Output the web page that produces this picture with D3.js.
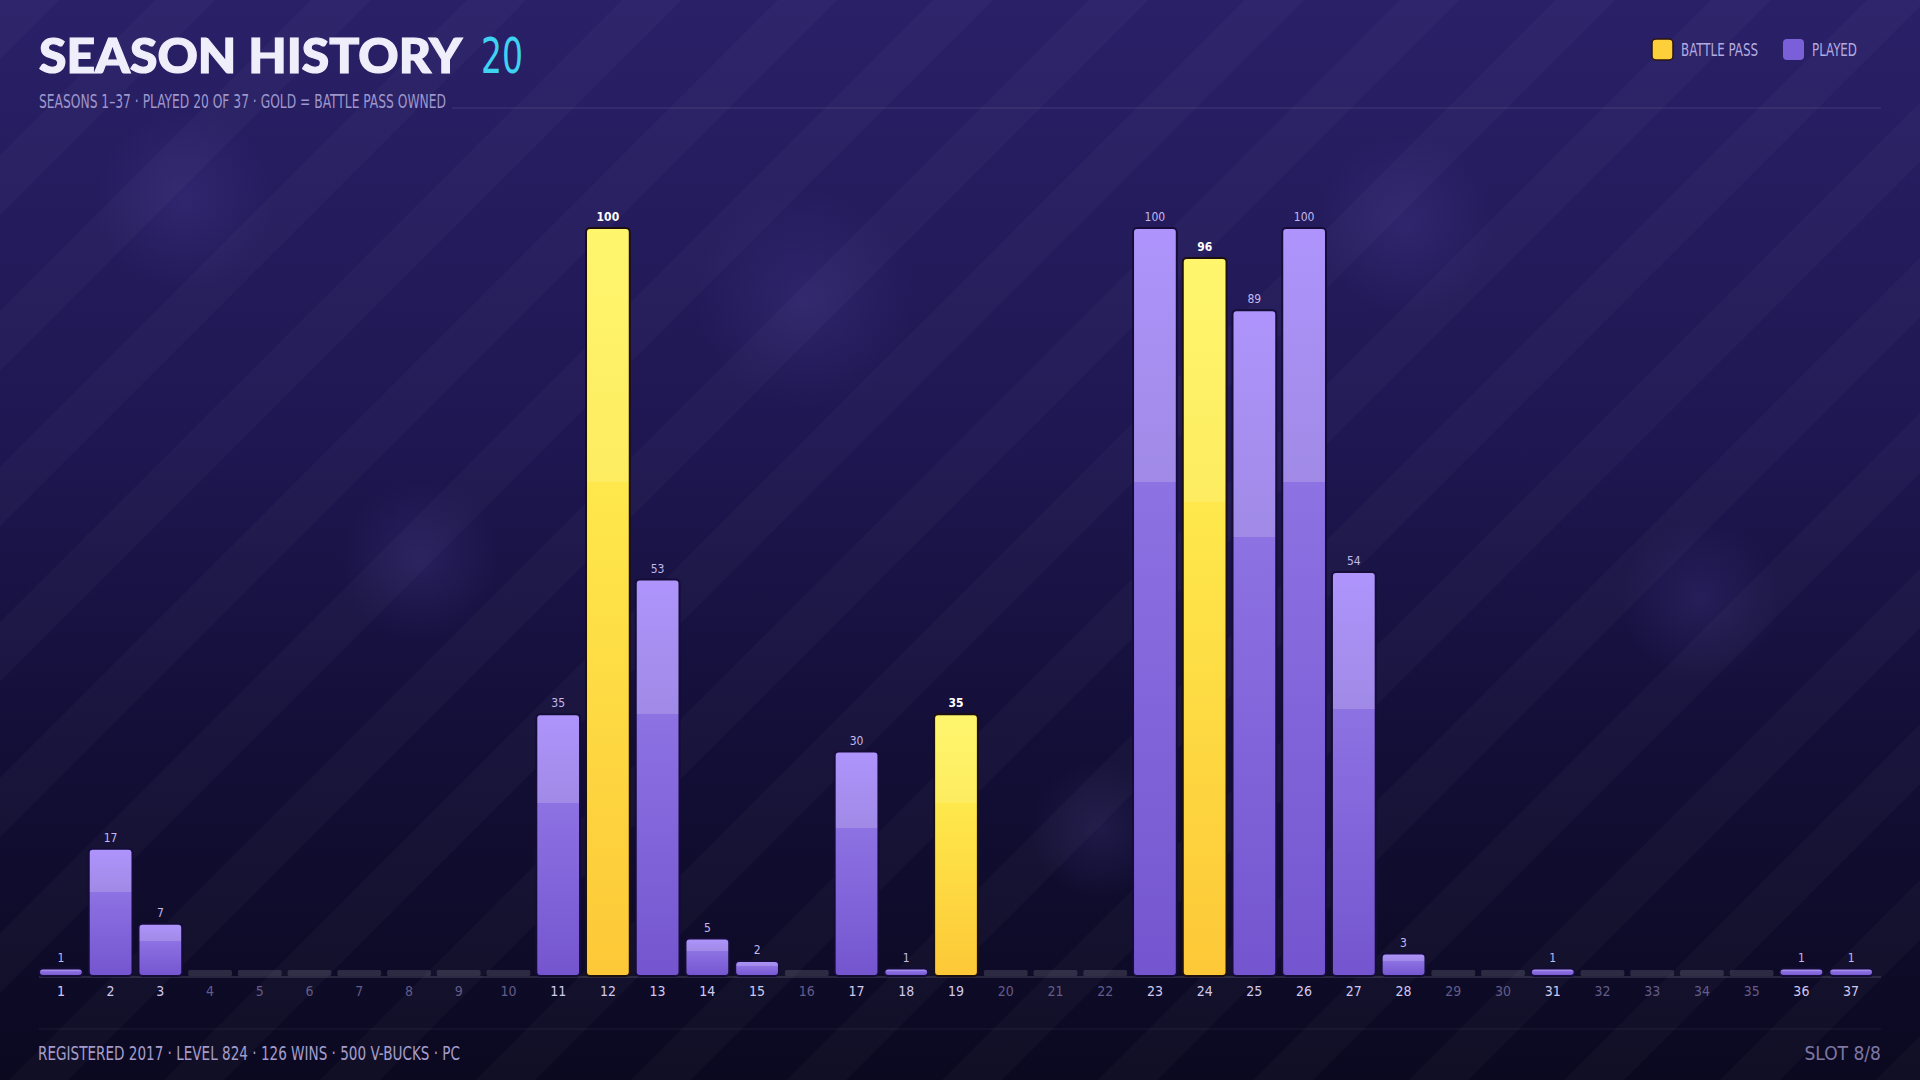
<!DOCTYPE html>
<html>
<head>
<meta charset="utf-8">
<script src="https://cdn.jsdelivr.net/npm/d3@7"></script>
<style>
  html, body { margin: 0; padding: 0; background: #0b0920; }
  svg { display: block; }
</style>
</head>
<body>
<svg id="chart" width="1920" height="1080"></svg>
<script>
// season numbers, levels reached, and which seasons had the battle pass
const seasons = d3.range(1, 38);
const levels = [1, 17, 7, 0, 0, 0, 0, 0, 0, 0, 35, 100, 53, 5, 2, 0, 30, 1, 35, 0, 0, 0, 100, 96, 89, 100, 54, 3, 0, 0, 1, 0, 0, 0, 0, 1, 1];
const battlePassSeasons = [12, 19, 24];
const legendLabels = ["BATTLE PASS", "PLAYED"];

const titleText = "SEASON HISTORY";
const playedCount = levels.filter((d) => d > 0).length;
const subtitleText = `SEASONS 1\u201337  \u00b7  PLAYED ${playedCount} OF 37  \u00b7  GOLD = BATTLE PASS OWNED`;
const footerText = "REGISTERED 2017  \u00b7  LEVEL 824  \u00b7  126 WINS  \u00b7  500 V-BUCKS  \u00b7  PC";
const slotText = "SLOT 8/8";

const condensed = "'Liberation Sans Narrow', 'DejaVu Sans Condensed', 'Roboto Condensed', sans-serif";

const data = seasons.map((s, i) => ({
    season: s,
    level: levels[i],
    bp: battlePassSeasons.includes(s),
}));

const svg = d3.select("#chart");
const W = 1920, H = 1080;
const defs = svg.append("defs");

// background
const bg = defs.append("linearGradient").attr("id", "bg").attr("x1", 0).attr("y1", 0).attr("x2", 0).attr("y2", 1);
bg.append("stop").attr("offset", "0%").attr("stop-color", "#2a2068");
bg.append("stop").attr("offset", "40%").attr("stop-color", "#1f1752");
bg.append("stop").attr("offset", "70%").attr("stop-color", "#130e36");
bg.append("stop").attr("offset", "100%").attr("stop-color", "#0b0920");

const stripes = defs.append("pattern")
    .attr("id", "stripes")
    .attr("patternUnits", "userSpaceOnUse")
    .attr("width", 110)
    .attr("height", 110)
    .attr("patternTransform", "rotate(45)");
stripes.append("rect").attr("width", 42).attr("height", 110).attr("fill", "#ffffff").attr("opacity", 0.025);

const glow = defs.append("radialGradient").attr("id", "glow");
glow.append("stop").attr("offset", "0%").attr("stop-color", "#6b5cc4").attr("stop-opacity", 0.16);
glow.append("stop").attr("offset", "100%").attr("stop-color", "#6b5cc4").attr("stop-opacity", 0);

// bar gradients with the hard step a third of the way down
const playedGrad = defs.append("linearGradient").attr("id", "played").attr("x1", 0).attr("y1", 0).attr("x2", 0).attr("y2", 1);
[["0", "#ae94fc"], ["0.34", "#a08ae6"], ["0.34", "#8d72e3"], ["1", "#7455cf"]].forEach(([o, c]) =>
    playedGrad.append("stop").attr("offset", o).attr("stop-color", c));

const goldGrad = defs.append("linearGradient").attr("id", "gold").attr("x1", 0).attr("y1", 0).attr("x2", 0).attr("y2", 1);
[["0", "#fff66e"], ["0.34", "#fdec60"], ["0.34", "#fee84c"], ["1", "#fdc837"]].forEach(([o, c]) =>
    goldGrad.append("stop").attr("offset", o).attr("stop-color", c));

svg.append("rect").attr("width", W).attr("height", H).attr("fill", "url(#bg)");

// soft bokeh blobs
[[185, 200, 90], [805, 300, 110], [1405, 225, 90], [1700, 600, 80], [1100, 830, 70], [420, 560, 80]].forEach(([cx, cy, r]) =>
    svg.append("circle").attr("cx", cx).attr("cy", cy).attr("r", r).attr("fill", "url(#glow)"));

svg.append("rect").attr("width", W).attr("height", H).attr("fill", "url(#stripes)");

// header
svg.append("text")
    .attr("x", 39)
    .attr("y", 73)
    .attr("font-family", "Lato, Inter, sans-serif")
    .attr("font-weight", 900)
    .attr("font-size", 48)
    .attr("fill", "#f1eefc")
    .attr("stroke", "#f1eefc")
    .attr("stroke-width", 1.2)
    .attr("textLength", 423)
    .attr("lengthAdjust", "spacingAndGlyphs")
    .text(titleText);

svg.append("text")
    .attr("x", 481)
    .attr("y", 73)
    .attr("font-family", condensed)
    .attr("font-stretch", "condensed")
    .attr("font-size", 50)
    .attr("fill", "#3fd3f2")
    .attr("textLength", 42)
    .attr("lengthAdjust", "spacingAndGlyphs")
    .text(playedCount);

svg.append("text")
    .attr("x", 39)
    .attr("y", 108)
    .attr("font-family", condensed)
    .attr("font-stretch", "condensed")
    .attr("font-size", 19)
    .attr("fill", "#9e97cc")
    .attr("textLength", 407)
    .attr("lengthAdjust", "spacingAndGlyphs")
    .text(subtitleText);

svg.append("line")
    .attr("x1", 452).attr("x2", 1881)
    .attr("y1", 108).attr("y2", 108)
    .attr("stroke", "#ffffff").attr("stroke-opacity", 0.12);

// legend
const legend = svg.append("g");
const legendX = [1652, 1783];
legendLabels.forEach((lab, i) => {
    const g = legend.append("g").attr("transform", `translate(${legendX[i]},39)`);
    g.append("rect")
        .attr("width", 21).attr("height", 21).attr("rx", 4)
        .attr("fill", i === 0 ? "#fdcf3b" : "#7a5fd8")
        .attr("stroke", i === 0 ? "#2a140e" : "none")
        .attr("stroke-width", 1.5);
    g.append("text")
        .attr("x", 29).attr("y", 17)
        .attr("font-family", condensed)
        .attr("font-stretch", "condensed")
        .attr("font-size", 17)
        .attr("fill", "#b3abe0")
        .attr("textLength", i === 0 ? 77 : 45)
        .attr("lengthAdjust", "spacingAndGlyphs")
        .text(lab);
});

// scales
const x = d3.scaleBand()
    .domain(seasons)
    .range([39, 1873])
    .paddingInner(0.12)
    .paddingOuter(0);

const y = d3.scaleLinear().domain([0, 100]).range([976, 228]);

// baseline
svg.append("line")
    .attr("x1", 39).attr("x2", 1881)
    .attr("y1", y(0) + 1).attr("y2", y(0) + 1)
    .attr("stroke", "#ffffff").attr("stroke-opacity", 0.22);

// placeholder stubs for unplayed seasons
svg.append("g")
    .selectAll("rect")
    .data(data.filter((d) => d.level === 0))
    .join("rect")
    .attr("x", (d) => x(d.season))
    .attr("y", y(0) - 6)
    .attr("width", x.bandwidth())
    .attr("height", 6)
    .attr("rx", 1.5)
    .attr("fill", "#ffffff")
    .attr("opacity", 0.13);

// bars
svg.append("g")
    .selectAll("rect")
    .data(data.filter((d) => d.level > 0))
    .join("rect")
    .attr("x", (d) => x(d.season))
    .attr("y", (d) => y(d.level))
    .attr("width", x.bandwidth())
    .attr("height", (d) => Math.max(y(0) - y(d.level), 6))
    .attr("rx", 4)
    .attr("fill", (d) => (d.bp ? "url(#gold)" : "url(#played)"))
    .attr("stroke", (d) => (d.bp ? "#1d1010" : "#150d38"))
    .attr("stroke-width", 2);

// value labels
svg.append("g")
    .selectAll("text")
    .data(data.filter((d) => d.level > 0))
    .join("text")
    .attr("x", (d) => x(d.season) + x.bandwidth() / 2)
    .attr("y", (d) => Math.min(y(d.level), y(0) - 6) - 7)
    .attr("text-anchor", "middle")
    .attr("font-family", condensed)
    .attr("font-stretch", "condensed")
    .attr("font-size", 12)
    .attr("font-weight", (d) => (d.bp ? 700 : 400))
    .attr("fill", (d) => (d.bp ? "#ffffff" : "#c2b9ec"))
    .text((d) => d.level);

// season tick labels
const xAxis = svg.append("g")
    .attr("transform", `translate(0,${y(0) + 10})`)
    .call(d3.axisBottom(x).tickSize(0).tickPadding(0));
xAxis.select(".domain").remove();
xAxis.selectAll("text")
    .attr("dy", "0.71em")
    .attr("font-family", condensed)
    .attr("font-stretch", "condensed")
    .attr("font-size", 14)
    .attr("fill", (d) => (levels[d - 1] > 0 ? "#cfc9f0" : "#625c88"));

// footer
svg.append("line")
    .attr("x1", 39).attr("x2", 1881)
    .attr("y1", 1029).attr("y2", 1029)
    .attr("stroke", "#ffffff").attr("stroke-opacity", 0.07);

svg.append("text")
    .attr("x", 38)
    .attr("y", 1060)
    .attr("font-family", condensed)
    .attr("font-stretch", "condensed")
    .attr("font-size", 19)
    .attr("fill", "#a49dcc")
    .attr("textLength", 422)
    .attr("lengthAdjust", "spacingAndGlyphs")
    .text(footerText);

svg.append("text")
    .attr("x", 1881)
    .attr("y", 1060)
    .attr("text-anchor", "end")
    .attr("font-family", condensed)
    .attr("font-stretch", "condensed")
    .attr("font-size", 19)
    .attr("fill", "#7d77a3")
    .text(slotText);
</script>
</body>
</html>
